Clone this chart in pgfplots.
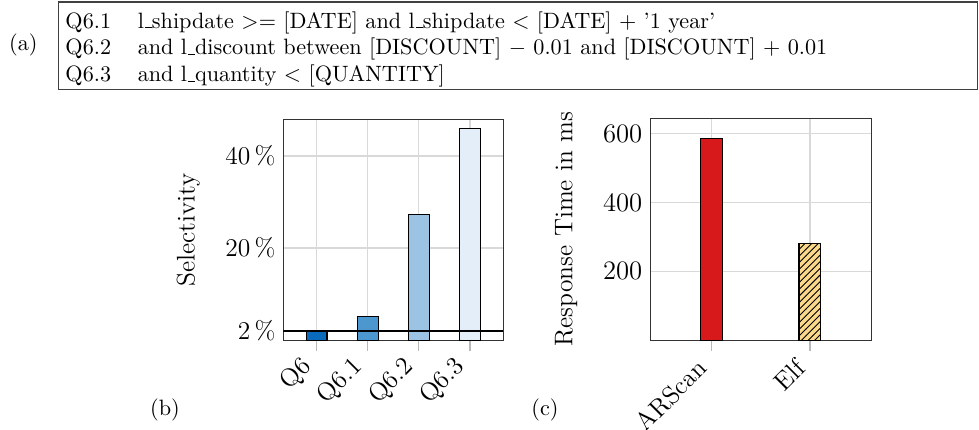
\documentclass[border=0pt]{standalone}
\usepackage{pgfplots}
\pgfplotsset{compat=1.18}
\usetikzlibrary{patterns}
\definecolor{qa}{HTML}{0A6BBD}
\definecolor{qb}{HTML}{4B97CE}
\definecolor{qc}{HTML}{9CC3E3}
\definecolor{qd}{HTML}{E3EEF8}
\definecolor{arred}{HTML}{D7191C}
\definecolor{elfy}{HTML}{FCD98A}
\newcommand{\pf}{\fontsize{11.5}{13.5}\selectfont}
\newcommand{\us}{\leavevmode\kern.06em\vbox{\hrule width.3em}}
\pgfplotsset{
  mystyle/.style={
    scale only axis,
    axis line style={black!80},
    xmajorgrids, ymajorgrids,
    major grid style={gray!30, line width=0.6pt},
    tick align=outside, major tick length=5pt,
    xtick pos=bottom, ytick pos=left,
    xtick style={gray!55, line width=0.6pt},
    ytick style={draw=none},
    yticklabel style={xshift=5pt, font=\pf},
    xticklabel style={xshift=-2.5pt, yshift=-4pt, rotate=45, anchor=east, font=\pf, inner sep=2pt},
    label style={font=\pf},
  }
}
\begin{document}
\begin{tikzpicture}
\useasboundingbox (0,0) rectangle (441pt,-193.3pt);
% (a)
\draw[black!75, line width=0.5pt] (26.3pt,-0.9pt) rectangle (440.4pt,-40.5pt);
\node[anchor=west, inner sep=0pt] at (29.3pt,-22.3pt) {%
\begin{tabular}{@{}ll@{}}
Q6.1 & l\us shipdate $>=$ [DATE] and l\us shipdate $<$ [DATE] $+$ '1 year'\\
Q6.2 & and l\us discount between [DISCOUNT] $-$ 0.01 and [DISCOUNT] $+$ 0.01\\
Q6.3 & and l\us quantity $<$ [QUANTITY]
\end{tabular}};
\node at (10.5pt,-20.3pt) {(a)};
\node at (74.3pt,-184.7pt) {(b)};
\node at (245.5pt,-184.7pt) {(c)};
% (b)
\begin{axis}[mystyle,
  at={(127.6pt,-153.2pt)}, anchor=south west,
  width=99.1pt, height=99.6pt,
  xmin=-0.655, xmax=3.655, ymin=0, ymax=48,
  xtick={0,1,2,3}, xticklabels={Q6,Q6.1,Q6.2,Q6.3},
  ytick={2,20,40}, yticklabels={2\,\%,20\,\%,40\,\%},
  ylabel={Selectivity},
  ylabel style={at={([xshift=-42.8pt]axis description cs:0,0.5)}, anchor=center},
]
\addplot[ybar, bar width=9.3pt, bar shift=0pt, fill=qa, draw=black, line width=0.5pt] coordinates {(0,1.8)};
\addplot[ybar, bar width=9.3pt, bar shift=0pt, fill=qb, draw=black, line width=0.5pt] coordinates {(1,5.1)};
\addplot[ybar, bar width=9.3pt, bar shift=0pt, fill=qc, draw=black, line width=0.5pt] coordinates {(2,27.2)};
\addplot[ybar, bar width=9.3pt, bar shift=0pt, fill=qd, draw=black, line width=0.5pt] coordinates {(3,45.9)};
\addplot[sharp plot, black, line width=0.8pt, mark=none] coordinates {(-0.655,2) (3.655,2)};
\end{axis}
% (c)
\begin{axis}[mystyle,
  at={(292.8pt,-153.2pt)}, anchor=south west,
  width=99.6pt, height=99.9pt,
  xmin=-0.62, xmax=1.62, ymin=0, ymax=645,
  xtick={0,1}, xticklabels={ARScan,Elf},
  ytick={200,400,600},
  ylabel={Response Time in ms},
  ylabel style={at={([xshift=-37.8pt]axis description cs:0,0.5)}, anchor=center},
]
\addplot[ybar, bar width=9.8pt, bar shift=0pt, fill=arred, draw=black, line width=0.5pt] coordinates {(0,586)};
\addplot[ybar, bar width=9.8pt, bar shift=0pt, fill=elfy, draw=black, line width=0.5pt, postaction={pattern=north east lines}] coordinates {(1,282)};
\end{axis}
\end{tikzpicture}
\end{document}
